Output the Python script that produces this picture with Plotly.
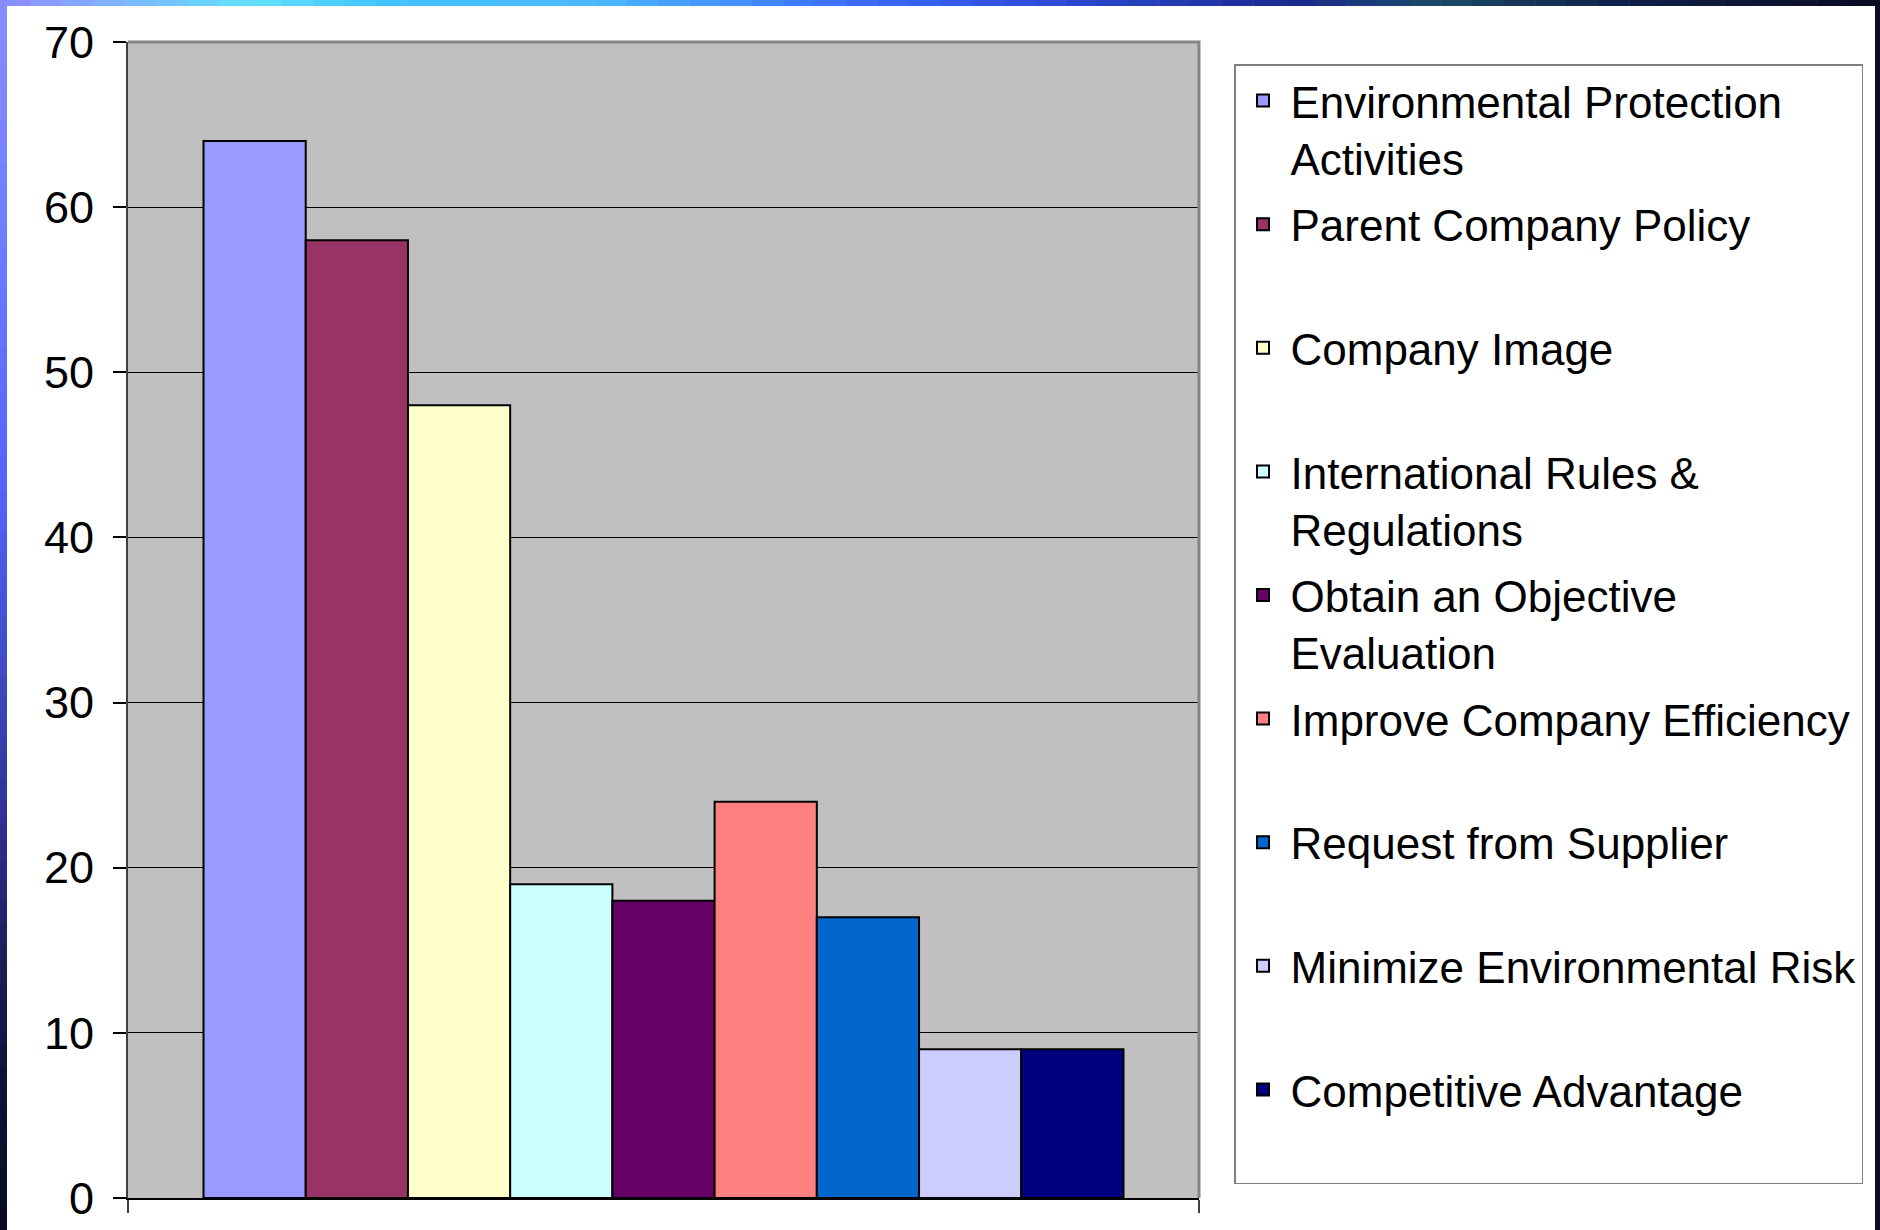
import plotly.graph_objects as go

# ---- data ----
categories = [
    "Environmental Protection<br>Activities",
    "Parent Company Policy<br>\u00a0",
    "Company Image<br>\u00a0",
    "International Rules &<br>Regulations",
    "Obtain an Objective<br>Evaluation",
    "Improve Company Efficiency<br>\u00a0",
    "Request from Supplier<br>\u00a0",
    "Minimize Environmental Risk<br>\u00a0",
    "Competitive Advantage<br>\u00a0",
]
values = [64, 58, 48, 19, 18, 24, 17, 9, 9]
colors = ["#9999FF", "#993366", "#FFFFCC", "#CCFFFF", "#660066",
          "#FF8080", "#0066CC", "#CCCCFF", "#000080"]
y_ticks = [0, 10, 20, 30, 40, 50, 60, 70]

W, H = 1880, 1230
L, R, T, B = 128, 1199, 42, 1198  # plot area in pixels

FONT = "Liberation Sans, Arial, sans-serif"

fig = go.Figure()
for name, v, c in zip(categories, values, colors):
    fig.add_trace(go.Bar(
        x=["Reasons"], y=[v], name=name, legendgroup=name,
        marker=dict(color=c, line=dict(color="#000000", width=2)),
        hoverinfo="y+name",
    ))

# ---- decorative frame (slide border) ----
def px2paper_x(px):
    return (px - L) / (R - L)

def px2paper_y(py):
    return (B - py) / (B - T)

def hex2rgb(h):
    h = h.lstrip("#")
    return tuple(int(h[i:i + 2], 16) for i in (0, 2, 4))

def mix(stops, t):
    for (t0, c0), (t1, c1) in zip(stops[:-1], stops[1:]):
        if t0 <= t <= t1:
            f = 0 if t1 == t0 else (t - t0) / (t1 - t0)
            a, b = hex2rgb(c0), hex2rgb(c1)
            return "rgb(%d,%d,%d)" % tuple(round(a[i] + (b[i] - a[i]) * f) for i in range(3))
    return stops[-1][1]

shapes = []
top_stops = [(0, "#8a8cff"), (60, "#8aa0ff"), (250, "#62e2ff"), (380, "#42c4ff"),
             (600, "#4cb8ff"), (860, "#3a6aff"), (1020, "#3050e0"), (1290, "#1a2a90"),
             (1440, "#1a4a66"), (1620, "#10204a"), (1880, "#0a0a20")]
n = 60
for i in range(n):
    x0 = W * i / n
    x1 = W * (i + 1) / n + 0.5
    shapes.append(dict(type="rect", xref="paper", yref="paper", layer="above",
                       x0=px2paper_x(x0), x1=px2paper_x(x1),
                       y0=px2paper_y(6), y1=px2paper_y(0),
                       fillcolor=mix(top_stops, (x0 + x1) / 2), line=dict(width=0)))
left_stops = [(0, "#8a8cff"), (200, "#6f82ff"), (500, "#5262f8"), (700, "#3a46b8"),
              (850, "#2c2c88"), (950, "#1a2058"), (1080, "#0e1238"), (1230, "#0a0a20")]
for i in range(n):
    y0 = H * i / n
    y1 = H * (i + 1) / n + 0.5
    shapes.append(dict(type="rect", xref="paper", yref="paper", layer="above",
                       x0=px2paper_x(0), x1=px2paper_x(7),
                       y0=px2paper_y(y1), y1=px2paper_y(y0),
                       fillcolor=mix(left_stops, (y0 + y1) / 2), line=dict(width=0)))
shapes.append(dict(type="rect", xref="paper", yref="paper", layer="above",
                   x0=px2paper_x(1875), x1=px2paper_x(1880),
                   y0=px2paper_y(1230), y1=px2paper_y(0),
                   fillcolor="#0a0a20", line=dict(width=0)))
# plot-area border (top and right edges)
shapes.append(dict(type="path", xref="x domain", yref="y domain", layer="above",
                   path="M 0,1 L 1,1 L 1,0", line=dict(color="#858585", width=3)))

fig.update_layout(
    width=W, height=H,
    margin=dict(l=L, r=W - R, t=T, b=H - B, pad=0, autoexpand=False),
    paper_bgcolor="#FFFFFF",
    plot_bgcolor="#C0C0C0",
    barmode="group", bargap=0.141, bargroupgap=0,
    font=dict(family=FONT, color="#000000"),
    showlegend=True,
    legend=dict(
        x=px2paper_x(1234), y=px2paper_y(64), xanchor="left", yanchor="top",
        bgcolor="#FFFFFF", bordercolor="#808080", borderwidth=1.5,
        font=dict(family=FONT, size=44, color="#000000"),
        tracegroupgap=6.2, itemwidth=45, valign="top",
        traceorder="grouped",
    ),
    shapes=shapes,
)
fig.update_xaxes(
    automargin=False,
    showticklabels=False, ticks="outside", tickson="boundaries", ticklen=13,
    tickcolor="#404040", tickwidth=1.5, showgrid=False,
    showline=True, linecolor="#000000", linewidth=2,
)
fig.update_yaxes(
    automargin=False,
    range=[0, 70], tickvals=y_ticks, ticktext=[str(v) for v in y_ticks],
    ticks="outside", ticklen=13, tickcolor="#000000", tickwidth=1.5,
    ticklabelstandoff=10,
    tickfont=dict(family=FONT, size=45, color="#000000"),
    showgrid=True, gridcolor="#000000", gridwidth=1,
    zeroline=False,
    showline=True, linecolor="#404040", linewidth=2,
)

fig.write_html(
    "out.html",
    config={"displayModeBar": False},
    post_script="document.body.style.margin='0px';document.body.style.overflow='hidden';",
)
